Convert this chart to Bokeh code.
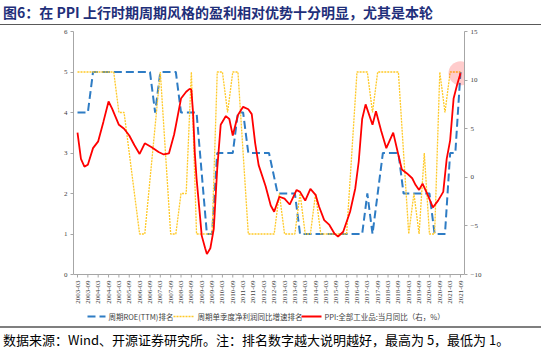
import math
from bokeh.plotting import figure
from bokeh.layouts import column
from bokeh.models import (Range1d, LinearAxis, FixedTicker, Div)
from bokeh.core.properties import value
from bokeh.embed import file_html
from bokeh.resources import INLINE

# ---------------- data ----------------
tick_labels = [f"{y}-{m}" for y in range(2003, 2022) for m in ("03", "09")]

roe_dates = ["2003-03", "2003-09", "2003-12", "2006-09", "2006-12", "2007-03", "2007-12",
             "2008-03", "2008-12", "2009-06", "2009-09", "2009-12", "2010-09", "2010-12",
             "2011-03", "2011-06", "2012-06", "2012-11", "2013-09", "2013-12", "2016-12",
             "2017-03", "2017-06", "2017-12", "2018-09", "2018-12", "2020-03", "2020-06",
             "2020-12", "2021-03", "2021-06", "2021-09"]
roe_rank = [4, 4, 5, 5, 4, 5, 5, 4, 4, 1, 1, 3, 3, 4, 4, 3, 3, 2, 2, 1, 1, 2, 1, 3, 3, 2,
            2, 1, 1, 3, 3, 5]

np_dates = ["2003-03", "2004-12", "2005-03", "2005-06", "2006-03", "2006-06", "2007-03",
            "2007-09", "2007-12", "2008-03", "2008-06", "2008-09", "2008-12", "2009-09",
            "2009-12", "2010-03", "2010-06", "2010-09", "2010-12", "2011-06", "2012-09",
            "2012-12", "2013-03", "2013-09", "2013-12", "2014-03", "2014-06", "2014-09",
            "2014-12", "2016-03", "2016-09", "2017-03", "2017-06", "2017-09", "2018-09",
            "2019-03", "2019-06", "2019-09", "2019-12", "2020-03", "2020-06", "2020-09",
            "2020-12", "2021-03", "2021-09"]
np_rank = [5, 5, 4, 4, 1, 1, 5, 1, 1, 2, 2, 5, 1, 1, 5, 5, 4, 5, 5, 1, 1, 2, 1, 1, 2, 1,
           1, 2, 1, 1, 5, 5, 4, 5, 5, 1, 2, 1, 3, 1, 1, 5, 4, 5, 5]

ppi_dates = ["2003-03", "2003-05", "2003-07", "2003-09", "2003-12", "2004-03", "2004-06",
             "2004-09", "2004-11", "2005-03", "2005-06", "2005-09", "2005-12", "2006-03",
             "2006-06", "2006-10", "2007-02", "2007-05", "2007-08", "2007-11", "2007-12",
             "2008-03", "2008-06", "2008-08", "2008-09", "2008-10", "2008-11", "2008-12",
             "2009-02", "2009-03", "2009-05", "2009-06", "2009-08", "2009-10", "2009-12",
             "2010-02", "2010-05", "2010-07", "2010-09", "2010-12", "2011-03", "2011-06",
             "2011-08", "2011-10", "2011-12", "2012-04", "2012-07", "2012-09", "2012-12",
             "2013-03", "2013-06", "2013-10", "2013-12", "2014-03", "2014-06", "2014-09",
             "2014-11", "2015-02", "2015-05", "2015-08", "2015-10", "2016-01", "2016-05",
             "2016-08", "2016-10", "2016-12", "2017-02", "2017-06", "2017-08", "2017-11",
             "2018-02", "2018-06", "2018-09", "2018-11", "2019-02", "2019-05", "2019-07",
             "2019-09", "2019-11", "2020-02", "2020-05", "2020-08", "2020-11", "2021-01",
             "2021-03", "2021-05", "2021-07", "2021-09"]
ppi_yoy = [4.6, 1.9, 1.1, 1.3, 3.0, 3.7, 5.7, 7.8, 7.1, 5.4, 5.0, 4.3, 3.3, 2.4,
           3.5, 3.1, 2.6, 2.35, 2.45, 4.4, 5.3, 8.1, 8.8, 9.1, 9.0, 6.6, 2.5, -0.1,
           -4.0, -6.0, -7.3, -7.9, -7.3, -5.3, 0.9, 5.4, 6.3, 6.0, 4.3, 6.4, 7.25, 7.0,
           6.5, 3.5, 1.25, -0.9, -2.9, -3.55, -2.0, -2.2, -2.8, -1.3, -1.5, -2.4, -1.2, -1.8,
           -3.0, -4.4, -4.9, -5.8, -6.1, -5.6, -3.55, -1.15, 1.6, 6.0, 7.5, 5.4, 6.8, 4.8,
           3.0, 4.6, 2.3, 0.8, 0.4, -0.1, -0.8, -1.3, -0.65, -1.8, -3.1, -2.4, -1.5, 1.9,
           3.8, 8.1, 9.5, 10.7]

series_names = ["周期ROE(TTM)排名", "周期单季度净利润同比增速排名", "PPI:全部工业品:当月同比（右，%）"]
title_text = "图6：在 PPI 上行时期周期风格的盈利相对优势十分明显，尤其是本轮"
footer_text = "数据来源：Wind、开源证券研究所。注：排名数字越大说明越好，最高为 5，最低为 1。"


def mi(d):
    y, m = d.split("-")
    return (int(y) - 2003) * 12 + int(m) - 3


roe_x = [mi(d) for d in roe_dates]
np_x = [mi(d) for d in np_dates]
ppi_x = [mi(d) for d in ppi_dates]
tick_x = [mi(t) for t in tick_labels]

SERIF = "Liberation Serif"
CJK = "Noto Sans CJK SC"

# styles
ROE_COL, NP_COL, PPI_COL = "#2E7CC4", "#FFC926", "#FF0000"
ROE_STYLE = dict(line_color=ROE_COL, line_width=2, line_dash="8 4")
NP_STYLE = dict(line_color=NP_COL, line_width=1.3, line_dash="2 1")
PPI_STYLE = dict(line_color=PPI_COL, line_width=1.8)
AXIS_COL = "#A6A6A6"
LAB_COL = "#404040"

# ---------------- layout geometry (page px) ----------------
W = 550
TITLE_H = 25
FOOT_H = 25
FIG_H = 351 - TITLE_H - FOOT_H      # figure spans page y 25..326
AX_L, AX_R = 77, 460                # where the x axis starts / ends
AX_TOP, AX_BOT = 31, 274            # plotting area of the value axes
PAD = 4                             # horizontal breathing room for tick labels
FRAME_BOT = 326                     # frame extends down to hold x labels + legend
KX = (AX_R - AX_L) / (tick_x[-1] - tick_x[0])      # px per month
KY = (AX_BOT - AX_TOP) / 6.0                          # px per left unit
KR = (AX_BOT - AX_TOP) / 25.0                         # px per right unit
EXT = FRAME_BOT - AX_BOT


def px_x(px):
    return tick_x[0] + (px - AX_L) / KX


def px_y(py):
    return (AX_BOT - py) / KY


p = figure(width=W, height=FIG_H, output_backend="svg", toolbar_location=None,
           x_axis_location=None,
           x_range=Range1d(px_x(AX_L - PAD), px_x(AX_R + PAD)),
           y_range=Range1d(-EXT / KY, 6),
           min_border_left=AX_L - PAD, min_border_right=W - AX_R - PAD,
           min_border_top=AX_TOP - TITLE_H, min_border_bottom=0,
           background_fill_color="white", border_fill_color="white")
p.outline_line_color = None
p.grid.visible = False
p.extra_y_ranges = {"ppi": Range1d(-10 - EXT / KR, 15)}

ya = p.yaxis[0]
ya.ticker = FixedTicker(ticks=[0, 1, 2, 3, 4, 5, 6])
ya.bounds = (0, 6)
ry = LinearAxis(y_range_name="ppi", ticker=FixedTicker(ticks=[-10, -5, 0, 5, 10, 15]),
                bounds=(-10, 15))
p.add_layout(ry, "right")
for ax in (ya, ry):
    ax.axis_line_color = AXIS_COL
    ax.major_tick_line_color = AXIS_COL
    ax.minor_tick_line_color = None
    ax.major_tick_in = 0
    ax.major_tick_out = 3
    ax.major_label_text_font = SERIF
    ax.major_label_text_font_size = "7px"
    ax.major_label_text_color = LAB_COL
    ax.major_label_standoff = 3

# x axis drawn through the figure's own scales
p.line([px_x(AX_L - PAD), px_x(AX_R + PAD)], [0, 0], line_color=AXIS_COL, line_width=1)
p.segment(x0=tick_x, y0=[0] * len(tick_x), x1=tick_x, y1=[-3 / KY] * len(tick_x),
          line_color=AXIS_COL, line_width=1)
p.text(x=tick_x, y=[-6 / KY] * len(tick_x), text=tick_labels, angle=math.pi / 2,
       text_align="right", text_baseline="middle", text_font=value(SERIF),
       text_font_size="7px", text_color=LAB_COL)

# series
p.line(roe_x, roe_rank, **ROE_STYLE)
p.line(np_x, np_rank, **NP_STYLE)
p.line(ppi_x, ppi_yoy, y_range_name="ppi", **PPI_STYLE)
p.scatter([ppi_x[-1]], [ppi_yoy[-1]], y_range_name="ppi", size=24, fill_color="#FF0000",
          fill_alpha=0.2, line_color=None)

# legend row
leg_y = px_y(316)
swatches = [(87, 105, ROE_STYLE), (173, 194, NP_STYLE), (301, 321, PPI_STYLE)]
for (a, b, st), name in zip(swatches, series_names):
    p.line([px_x(a), px_x(b)], [leg_y, leg_y], **st)
    p.text(x=[px_x(b + 3)], y=[leg_y], text=[name], text_font=value(CJK),
           text_font_size="7.5px", text_color=LAB_COL, text_baseline="middle",
           text_align="left")

title_div = Div(text=title_text, width=W, height=TITLE_H, margin=0,
                styles={"font-family": "'Noto Sans CJK SC', sans-serif", "font-size": "14px",
                        "font-weight": "bold", "color": "#1F2F7A", "box-sizing": "border-box",
                        "padding": "3px 0 0 3px", "border-bottom": "1.5px solid #595959",
                        "width": f"{W - 9}px", "height": f"{TITLE_H}px", "line-height": "18px",
                        "white-space": "nowrap", "background": "white"})
foot_div = Div(text=footer_text, width=W, height=FOOT_H, margin=0,
               styles={"font-family": "'Noto Sans CJK SC', sans-serif", "font-size": "13px",
                       "color": "#000000", "box-sizing": "border-box",
                       "padding": "3px 0 0 3px", "border-top": "2px solid #7F7F7F",
                       "width": f"{W - 9}px", "height": f"{FOOT_H}px", "line-height": "18px",
                       "white-space": "nowrap", "background": "white"})

layout = column(title_div, p, foot_div, spacing=0, margin=0)
open("out.html", "w").write(file_html(layout, INLINE))
